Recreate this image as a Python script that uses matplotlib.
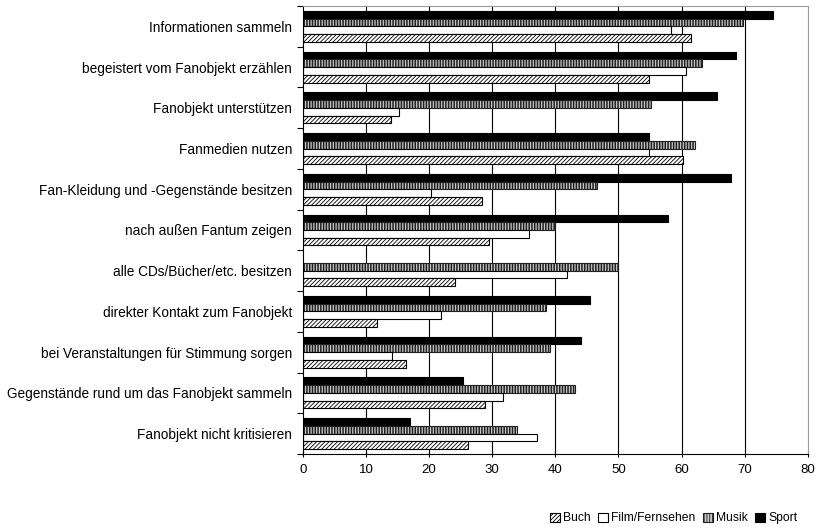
import numpy as np
import matplotlib.pyplot as plt

plt.rcParams['font.family'] = ['Liberation Sans', 'DejaVu Sans']

categories = ["Informationen sammeln", "begeistert vom Fanobjekt erzählen",
              "Fanobjekt unterstützen", "Fanmedien nutzen",
              "Fan-Kleidung und -Gegenstände besitzen", "nach außen Fantum zeigen",
              "alle CDs/Bücher/etc. besitzen", "direkter Kontakt zum Fanobjekt",
              "bei Veranstaltungen für Stimmung sorgen",
              "Gegenstände rund um das Fanobjekt sammeln", "Fanobjekt nicht kritisieren"]
sport = [74.5, 68.7, 65.6, 54.8, 67.8, 57.8, np.nan, 45.5, 44.0, 25.4, 17.0]
musik = [69.7, 63.3, 55.2, 62.1, 46.6, 39.9, 49.9, 38.5, 39.2, 43.1, 33.9]
film = [58.4, 60.7, 15.2, 54.9, 20.3, 35.9, 41.9, 21.9, 14.1, 31.7, 37.1]
buch = [61.5, 54.8, 13.9, 60.3, 28.3, 29.5, 24.1, 11.8, 16.4, 28.9, 26.1]

fig = plt.figure(figsize=(8.37, 5.30), dpi=100)
ax = fig.add_axes([0.362, 0.1434, 0.603, 0.8453])

y = np.arange(len(categories))
w = 0.19
ax.barh(y - 1.5 * w, sport, w, color='black', edgecolor='black', lw=0.8, label='Sport')
plt.rcParams['hatch.linewidth'] = 1.1
ax.barh(y - 0.5 * w, musik, w, color='#c8c8c8', edgecolor='#202020', hatch='||||||', lw=0.8, label='Musik')
ax.barh(y + 0.5 * w, film, w, color='white', edgecolor='black', lw=0.8, label='Film/Fernsehen')
plt.rcParams['hatch.linewidth'] = 0.6
ax.barh(y + 1.5 * w, buch, w, color='white', edgecolor='black', hatch='////////', lw=0.8, label='Buch')

ax.set_xlim(0, 80)
ax.set_ylim(len(categories) - 0.5, -0.5)
ax.set_xticks(np.arange(0, 81, 10))
ax.set_yticks(y)
ax.set_yticklabels(categories, fontsize=9.8)
ax.tick_params(axis='y', length=0, pad=8)
ax.set_yticks(np.arange(-0.5, len(categories), 1), minor=True)
ax.tick_params(axis='y', which='minor', length=4, direction='out', width=0.8)
ax.tick_params(axis='x', length=4, direction='inout', labelsize=9.5, pad=5)

for v in range(10, 80, 10):
    ax.axvline(v, color='black', lw=0.8, zorder=0)
ax.spines['top'].set_color('#999999')
ax.spines['right'].set_color('#999999')

handles, labels = ax.get_legend_handles_labels()
fig.legend(handles[::-1], labels[::-1], loc='center', bbox_to_anchor=(0.805, 0.022), ncol=4,
           frameon=False, fontsize=8.7, handlelength=0.8, handleheight=0.8,
           handletextpad=0.3, columnspacing=0.6)

fig.savefig('out.png', dpi=100)
